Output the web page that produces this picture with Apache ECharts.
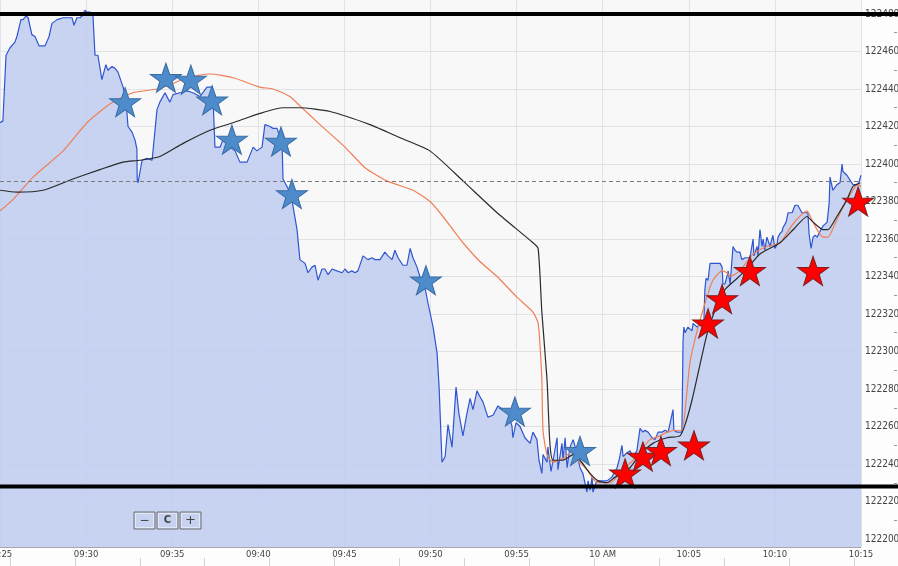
<!DOCTYPE html>
<html><head><meta charset="utf-8">
<script src="https://cdn.jsdelivr.net/npm/echarts@6/dist/echarts.min.js"></script>
<style>html,body{margin:0;padding:0;background:#fdfdfd;}#c{width:898px;height:566px;}</style>
</head><body><div id="c"></div>
<script>
// x values: seconds after 09:25
const xTickLabels = ['09:25','09:30','09:35','09:40','09:45','09:50','09:55','10 AM','10:05','10:10','10:15'];
const yTickValues = [122200,122220,122240,122260,122280,122300,122320,122340,122360,122380,122400,122420,122440,122460,122480];
const yMinorTicks = [122210,122230,122250,122270,122290,122310,122330,122350,122370,122390,122410,122430,122450,122470];
const levelHigh = 122480;
const levelLow = 122228;
const refLevel = 122391;

const priceTime = [0,10,21,35,52,59,73,80,91,98,111,122,136,157,171,181,199,220,251,258,268,279,286,296,303,314,324,331,341,355,369,376,390,401,411,429,439,446,460,470,477,478,481,495,512,530,547,557,575,585,592,603,627,652,672,697,721,739,742,749,767,777,801,819,836,861,882,895,913,923,941,951,965,983,986,993,1010,1017,1035,1045,1063,1073,1087,1098,1108,1122,1132,1143,1157,1174,1192,1202,1213,1226,1237,1247,1265,1282,1296,1307,1324,1341,1352,1366,1376,1387,1404,1418,1429,1439,1453,1463,1481,1491,1509,1523,1530,1537,1540,1551,1561,1575,1589,1599,1613,1627,1638,1648,1662,1672,1683,1700,1718,1735,1753,1770,1784,1787,1798,1812,1829,1847,1857,1871,1878,1888,1892,1906,1909,1920,1927,1941,1944,1958,1962,1969,1976,1986,1997,2010,2021,2031,2038,2045,2049,2056,2063,2066,2077,2084,2098,2115,2132,2150,2157,2167,2171,2185,2195,2206,2219,2230,2240,2247,2258,2272,2282,2293,2307,2317,2328,2334,2345,2348,2359,2369,2376,2380,2383,2387,2397,2411,2415,2429,2439,2449,2453,2456,2460,2467,2474,2509,2516,2519,2526,2533,2537,2544,2554,2561,2568,2578,2585,2596,2613,2624,2627,2638,2641,2648,2655,2659,2665,2672,2683,2693,2700,2707,2711,2718,2725,2728,2739,2746,2760,2770,2780,2794,2805,2815,2819,2826,2833,2840,2847,2857,2868,2882,2889,2892,2902,2916,2927,2934,2937,2951,2972,2990,3000];
const priceValue = [122422,122423,122458,122462,122465,122468,122477,122477,122479,122478,122469,122468,122463,122463,122468,122475,122477,122478,122478,122474,122478,122478,122479,122482,122481,122481,122479,122458,122458,122445,122453,122450,122452,122451,122449,122441,122434,122420,122417,122413,122408,122392,122390,122402,122403,122402,122429,122433,122438,122435,122433,122437,122438,122439,122438,122436,122441,122441,122436,122409,122409,122413,122409,122407,122401,122401,122409,122407,122409,122421,122420,122419,122419,122411,122392,122390,122385,122381,122365,122349,122347,122342,122345,122346,122338,122344,122344,122341,122344,122343,122342,122344,122342,122343,122342,122343,122351,122349,122350,122349,122349,122353,122351,122349,122354,122350,122346,122346,122355,122350,122345,122340,122334,122326,122313,122299,122281,122253,122241,122244,122261,122249,122281,122267,122255,122267,122275,122269,122279,122276,122273,122265,122266,122271,122269,122268,122260,122254,122262,122260,122254,122251,122257,122253,122242,122235,122245,122241,122249,122236,122242,122254,122237,122251,122242,122254,122238,122249,122253,122246,122238,122235,122230,122225,122231,122226,122233,122225,122230,122231,122231,122231,122233,122238,122242,122250,122244,122246,122247,122244,122247,122259,122257,122258,122257,122254,122253,122257,122257,122258,122257,122257,122269,122258,122257,122257,122257,122306,122313,122310,122313,122311,122315,122313,122315,122313,122318,122333,122339,122338,122347,122347,122345,122336,122336,122340,122343,122336,122356,122354,122353,122353,122349,122350,122350,122360,122351,122356,122351,122365,122356,122360,122354,122361,122356,122362,122355,122357,122361,122363,122364,122366,122369,122374,122374,122378,122378,122374,122374,122374,122363,122355,122361,122362,122361,122364,122367,122369,122379,122393,122386,122389,122390,122400,122396,122394,122389,122389,122394];

const fastTime = [0,45,115,220,303,383,463,547,603,652,732,812,906,951,1010,1045,1115,1202,1272,1348,1439,1498,1533,1578,1613,1672,1732,1801,1857,1875,1882,1888,1892,1906,1927,1962,1997,2014,2045,2073,2091,2125,2150,2171,2206,2230,2265,2300,2324,2359,2376,2404,2429,2463,2484,2516,2533,2544,2578,2624,2672,2718,2763,2812,2829,2847,2868,2885,2909,2937,2972,2990,3000];
const fastValue = [122375,122381,122393,122407,122422,122432,122438,122440,122443,122446,122448,122446,122441,122440,122436,122431,122421,122409,122398,122391,122386,122380,122374,122365,122358,122348,122340,122329,122321,122315,122302,122285,122258,122245,122241,122243,122247,122242,122237,122231,122230,122230,122233,122237,122242,122247,122253,122255,122257,122258,122258,122294,122311,122329,122338,122343,122342,122340,122343,122352,122356,122358,122368,122375,122370,122365,122361,122361,122368,122377,122386,122389,122388];

const slowTime = [0,59,150,254,348,429,488,557,638,732,812,906,986,1045,1150,1289,1394,1498,1613,1732,1857,1875,1888,1906,1916,1927,1962,1997,2021,2056,2084,2115,2143,2171,2195,2230,2275,2324,2369,2387,2411,2439,2463,2491,2526,2561,2596,2648,2718,2770,2812,2833,2868,2885,2916,2951,2972,2997];
const slowValue = [122386,122385,122386,122392,122397,122401,122402,122404,122411,122418,122422,122427,122430,122430,122428,122421,122414,122407,122391,122374,122358,122355,122321,122285,122251,122242,122242,122245,122242,122235,122231,122230,122233,122235,122238,122245,122251,122254,122255,122261,122274,122293,122309,122322,122333,122338,122343,122352,122358,122366,122372,122369,122365,122365,122372,122381,122388,122390];

const blueStarTime = [436,578,665,739,808,979,1017,1484,1794,2021];
const blueStarValue = [122433,122446,122445,122434,122413,122412,122384,122338,122268,122247];
const redStarTime = [2178,2240,2303,2418,2467,2516,2613,2833,2990];
const redStarValue = [122235,122244,122247,122250,122315,122328,122343,122343,122380];

const zip = (a, b) => a.map((v, i) => [v, b[i]]);
const Y_MIN = 122200 - 8 / 1.875;
const Y_MAX = 122200 + 539 / 1.875;
const STAR = 'path://M50,0 L61.8,35.1 L98.1,35.1 L68.8,56.7 L79.4,91 L50,70 L20.6,91 L31.2,56.7 L1.9,35.1 L38.2,35.1 Z';

const chart = echarts.init(document.getElementById('c'));
const axisFont = "'DejaVu Sans',sans-serif";
const btn = (x, label, font) => [
  {type: 'rect', z: 100, shape: {x: x, y: 0, width: 21, height: 17}, style: {fill: '#c6d2ef', stroke: '#6f6f6f', lineWidth: 1}},
  {type: 'rect', z: 101, shape: {x: x + 1.5, y: 1.5, width: 18, height: 14}, style: {fill: 'none', stroke: '#e2e8f6', lineWidth: 1}},
  {type: 'text', z: 102, style: {x: x + 10.5, y: 8.5, text: label, fill: '#444', font: font, align: 'center', verticalAlign: 'middle'}}
];
chart.setOption({
  animation: false,
  backgroundColor: '#fdfdfd',
  grid: [
    {left: 0, top: 0, width: 861, height: 547, show: true, backgroundColor: '#f8f8f8', borderWidth: 0, containLabel: false, outerBoundsMode: 'none'},
    {left: 0, top: 0, width: 898, height: 547, show: false, containLabel: false, outerBoundsMode: 'none'},
    {left: 10, top: 558, width: 888, height: 8, show: false, containLabel: false, outerBoundsMode: 'none'}
  ],
  xAxis: [
    {gridIndex: 0, type: 'value', min: 0, max: 3000, interval: 300,
     axisLine: {show: true, lineStyle: {color: '#a8a8a8', width: 1}},
     axisTick: {show: false},
     axisLabel: {margin: 3, color: '#444', fontSize: 8.5, fontFamily: axisFont,
       formatter: v => xTickLabels[Math.round(v / 300)] || ''},
     splitLine: {show: true, lineStyle: {color: '#dfe2e8', width: 1}}},
    {gridIndex: 1, type: 'value', min: 0, max: 1, show: false},
    {gridIndex: 2, type: 'value', min: 0, max: 13.68, interval: 1, position: 'top',
     axisLine: {show: true, lineStyle: {color: '#d4d4d4'}},
     axisTick: {show: false}, axisLabel: {show: false},
     splitLine: {show: true, lineStyle: {color: '#d4d4d4'}}}
  ],
  yAxis: [
    {gridIndex: 0, type: 'value', position: 'right', min: Y_MIN, max: Y_MAX,
     axisLine: {show: false},
     axisTick: {show: false, customValues: yTickValues},
     axisLabel: {customValues: yTickValues, margin: 4, color: '#444', fontSize: 10,
       fontFamily: "'Liberation Sans Narrow','DejaVu Sans Condensed',sans-serif",
       formatter: v => String(Math.round(v))},
     splitLine: {show: true, lineStyle: {color: '#e0e2e6', width: 1}}},
    {gridIndex: 1, type: 'value', min: Y_MIN, max: Y_MAX, show: false},
    {gridIndex: 2, type: 'value', min: 0, max: 1, show: false},
    {gridIndex: 0, type: 'value', position: 'right', offset: 36, min: Y_MIN, max: Y_MAX,
     axisLine: {show: false},
     axisTick: {show: true, inside: true, length: 3, customValues: yMinorTicks, lineStyle: {color: '#999'}},
     axisLabel: {show: false}, splitLine: {show: false}}
  ],
  series: [
    {type: 'line', xAxisIndex: 0, yAxisIndex: 0, data: zip(priceTime, priceValue),
     symbol: 'none', lineStyle: {color: '#2f55d0', width: 1.2},
     areaStyle: {color: 'rgb(190,204,240)', opacity: 0.85, origin: 'start'}, z: 2,
     markLine: {silent: true, symbol: 'none', label: {show: false},
       lineStyle: {color: '#7a7a7a', type: [4, 3], width: 1},
       data: [{yAxis: refLevel}]}},
    {type: 'line', xAxisIndex: 0, yAxisIndex: 0, data: zip(fastTime, fastValue),
     symbol: 'none', smooth: 0.2, lineStyle: {color: '#f07f55', width: 1.2}, z: 3},
    {type: 'line', xAxisIndex: 0, yAxisIndex: 0, data: zip(slowTime, slowValue),
     symbol: 'none', smooth: 0.2, lineStyle: {color: '#2a2a2a', width: 1.2}, z: 3},
    {type: 'scatter', xAxisIndex: 0, yAxisIndex: 0, data: zip(blueStarTime, blueStarValue),
     symbol: STAR, symbolSize: [31, 29],
     itemStyle: {color: '#4d8bcb', borderColor: '#3a6da6', borderWidth: 1, opacity: 1}, z: 5},
    {type: 'scatter', xAxisIndex: 0, yAxisIndex: 0, data: zip(redStarTime, redStarValue),
     symbol: STAR, symbolSize: [31, 29],
     itemStyle: {color: '#ff0000', borderColor: '#7d2020', borderWidth: 1, opacity: 1}, z: 5},
    {type: 'line', xAxisIndex: 1, yAxisIndex: 1, data: [[0, levelHigh], [1, levelHigh]],
     symbol: 'none', silent: true, lineStyle: {color: '#000', width: 4}, z: 10},
    {type: 'line', xAxisIndex: 1, yAxisIndex: 1, data: [[0, levelLow], [1, levelLow]],
     symbol: 'none', silent: true, lineStyle: {color: '#000', width: 4}, z: 10},
    {type: 'line', xAxisIndex: 2, yAxisIndex: 2, data: [], symbol: 'none'}
  ],
  graphic: [
    {type: 'group', left: 133, top: 511, z: 100,
     children: [].concat(btn(0, '\u2212', '12px DejaVu Sans'), btn(23, 'C', 'bold 10px DejaVu Sans'), btn(46, '+', '13px DejaVu Sans'))}
  ]
});
</script>
</body></html>
